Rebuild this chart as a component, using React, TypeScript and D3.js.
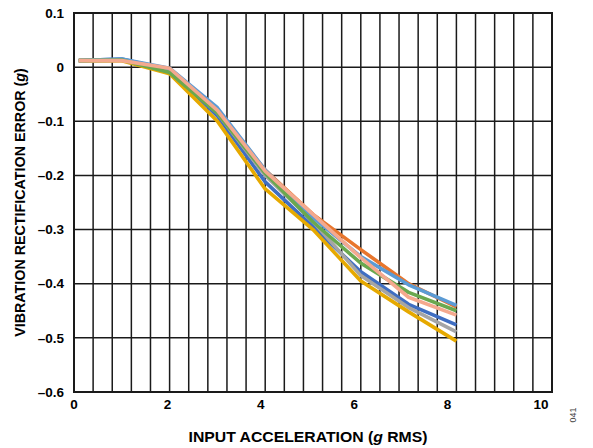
import React from "react";
import * as d3 from "d3";

const xValues = [0.1, 1, 2, 3, 4, 5, 6, 7, 8];
const seriesNames = ["orange", "darkblue", "gray", "gold", "lightblue", "green", "pink"];
const seriesColors = ["#E8762D", "#3F6EC2", "#A5A5A5", "#E6A900", "#5B9BD5", "#6AA84F", "#F4A98E"];
const orangeVals = [0.012, 0.013, -0.003, -0.08, -0.19, -0.272, -0.337, -0.4, -0.443];
const darkblueVals = [0.012, 0.015, -0.005, -0.09, -0.212, -0.295, -0.378, -0.438, -0.476];
const grayVals = [0.012, 0.013, -0.005, -0.085, -0.2, -0.285, -0.385, -0.444, -0.489];
const goldVals = [0.012, 0.012, -0.012, -0.1, -0.225, -0.3, -0.395, -0.452, -0.506];
const lightblueVals = [0.012, 0.015, -0.002, -0.075, -0.19, -0.278, -0.35, -0.402, -0.44];
const greenVals = [0.012, 0.013, -0.01, -0.085, -0.196, -0.286, -0.362, -0.416, -0.45];
const pinkVals = [0.012, 0.012, -0.002, -0.08, -0.192, -0.272, -0.352, -0.425, -0.458];
const seriesValues = [orangeVals, darkblueVals, grayVals, goldVals, lightblueVals, greenVals, pinkVals];

const xTickLabels = [0, 2, 4, 6, 8, 10];
const yTickValues = [0.1, 0, -0.1, -0.2, -0.3, -0.4, -0.5, -0.6];

const W = 593;
const H = 448;
const left = 74;
const right = 552;
const top = 13;
const bottom = 392;

export default function App() {
  const x = d3.scaleLinear().domain([0, 10]).range([left, right]);
  const y = d3.scaleLinear().domain([-0.6, 0.1]).range([bottom, top]);
  const vGrid = d3.range(0, 10.0001, 0.4);
  const line = d3
    .line<[number, number]>()
    .x((d) => x(d[0]))
    .y((d) => y(d[1]))
    .curve(d3.curveLinear);
  const fmt = (v: number) => {
    if (Math.abs(v) < 1e-9) return "0";
    const s = d3.format(".1f")(Math.abs(v));
    return v < 0 ? "\u2013" + s : s;
  };
  const font = "'Liberation Sans', Arial, sans-serif";
  return (
    <svg
      width={W}
      height={H}
      style={{ position: "absolute", left: 0, top: 0, background: "#fff" }}
      fontFamily={font}
    >
      <rect x={0} y={0} width={W} height={H} fill="#fff" />
      {vGrid.map((v, i) => (
        <line key={"v" + i} x1={x(v)} x2={x(v)} y1={y(0.1)} y2={y(-0.6)} stroke="#1a1a1a" strokeWidth={1.5} />
      ))}
      {yTickValues.map((v, i) => (
        <line key={"h" + i} x1={x(0)} x2={x(10)} y1={y(v)} y2={y(v)} stroke="#1a1a1a" strokeWidth={1.5} />
      ))}
      <rect x={x(0)} y={y(0.1)} width={x(10) - x(0)} height={y(-0.6) - y(0.1)} fill="none" stroke="#1a1a1a" strokeWidth={2} />
      {seriesValues.map((vals, si) => (
        <path
          key={seriesNames[si]}
          d={line(xValues.map((xv, i) => [xv, vals[i]] as [number, number])) || ""}
          fill="none"
          stroke={seriesColors[si]}
          strokeWidth={3.6}
          strokeLinejoin="round"
        />
      ))}
      {yTickValues.map((v, i) => (
        <text key={"yl" + i} x={x(0) - 10} y={y(v)} dy="0.35em" textAnchor="end" fontSize={13.5} fontWeight="bold" fill="#000">
          {fmt(v)}
        </text>
      ))}
      {xTickLabels.map((v, i) => (
        <text key={"xl" + i} x={x(v) - v * 1.1} y={bottom + 17} textAnchor="middle" fontSize={13.5} fontWeight="bold" fill="#000">
          {v}
        </text>
      ))}
      <text x={308} y={442} textAnchor="middle" fontSize={14.5} fontWeight="bold" fill="#000" textLength={239} lengthAdjust="spacingAndGlyphs">
        INPUT ACCELERATION (<tspan fontStyle="italic">g</tspan> RMS)
      </text>
      <text
        transform={`translate(25, ${(top + bottom) / 2}) rotate(-90)`}
        textAnchor="middle"
        fontSize={14.3}
        fontWeight="bold"
        fill="#000"
      >
        VIBRATION RECTIFICATION ERROR (<tspan fontStyle="italic">g</tspan>)
      </text>
      <text transform="translate(576, 415) rotate(-90)" textAnchor="middle" fontSize={9} fill="#444">
        041
      </text>
    </svg>
  );
}
